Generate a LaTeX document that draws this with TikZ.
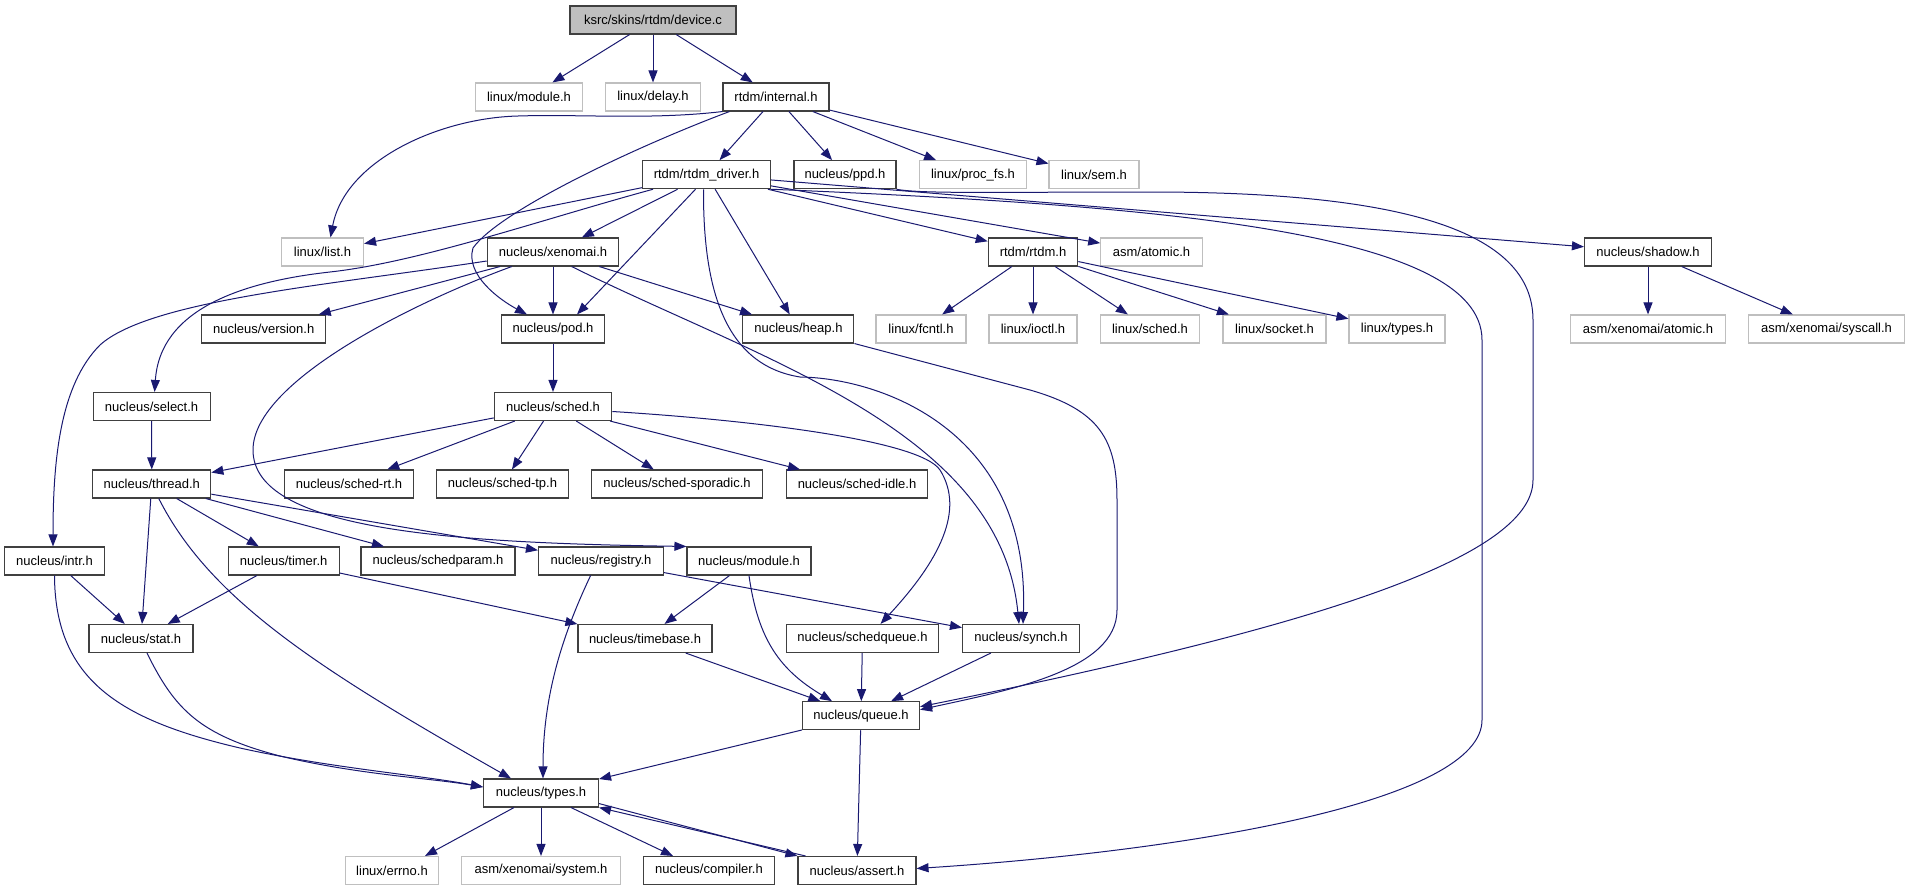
\documentclass[tikz,border=0pt]{standalone}
\usepackage{fontspec}
\setmainfont{Liberation Sans}
\usetikzlibrary{arrows.meta}
\definecolor{edgec}{HTML}{191970}
\definecolor{bdr}{HTML}{404040}
\definecolor{gbdr}{HTML}{BFBFBF}
\definecolor{gfill}{HTML}{BFBFBF}
\begin{document}
\begin{tikzpicture}[x=1pt,y=-1pt,
  box/.style={draw=bdr, line width=1.1pt, minimum height=28pt, inner sep=0pt,
    font=\fontsize{13}{15}\selectfont, text=black, anchor=center},
  ext/.style={box, draw=gbdr},
  root/.style={box, fill=gfill},
  e/.style={draw=edgec, line width=1pt, -{Triangle[length=12pt,width=9pt]}},
]
\useasboundingbox (0,0) rectangle (1909,891);
% row 1
\node[root, minimum width=166pt] (dev) at (653,20) {ksrc/skins/rtdm/device.c};
% row 2
\node[ext, minimum width=107pt] (lmod) at (529,97) {linux/module.h};
\node[ext, minimum width=95pt] (ldelay) at (653,97) {linux/delay.h};
\node[box, minimum width=106pt] (internal) at (776,97) {rtdm/internal.h};
% row 3
\node[box, minimum width=128pt] (drv) at (706.5,174.7) {rtdm/rtdm\_driver.h};
\node[box, minimum width=102pt] (ppd) at (845,174.7) {nucleus/ppd.h};
\node[ext, minimum width=106.5pt] (procfs) at (973,174.7) {linux/proc\_fs.h};
\node[ext, minimum width=90pt] (sem) at (1094,174.7) {linux/sem.h};
% row 4
\node[ext, minimum width=82pt] (list) at (322.5,252) {linux/list.h};
\node[box, minimum width=131.5pt] (xen) at (553,252) {nucleus/xenomai.h};
\node[box, minimum width=89.5pt] (rtdm) at (1033,252) {rtdm/rtdm.h};
\node[ext, minimum width=101.5pt] (asmat) at (1151.5,252) {asm/atomic.h};
\node[box, minimum width=127pt] (shadow) at (1648,252) {nucleus/shadow.h};
% row 5
\node[box, minimum width=124pt] (version) at (263.7,329) {nucleus/version.h};
\node[box, minimum width=103pt] (pod) at (553,329) {nucleus/pod.h};
\node[box, minimum width=111pt] (heap) at (798.4,329) {nucleus/heap.h};
\node[ext, minimum width=90pt] (fcntl) at (921,329) {linux/fcntl.h};
\node[ext, minimum width=88pt] (ioctl) at (1033,329) {linux/ioctl.h};
\node[ext, minimum width=99pt] (lsched) at (1150,329) {linux/sched.h};
\node[ext, minimum width=103pt] (socket) at (1274.5,329) {linux/socket.h};
\node[ext, minimum width=96pt] (ltypes) at (1397,329) {linux/types.h};
\node[ext, minimum width=155pt] (xatomic) at (1648,329) {asm/xenomai/atomic.h};
\node[ext, minimum width=156pt] (syscall) at (1826.5,329) {asm/xenomai/syscall.h};
% row 6
\node[box, minimum width=117pt] (select) at (151.6,406.5) {nucleus/select.h};
\node[box, minimum width=117.5pt] (sched) at (553,406.5) {nucleus/sched.h};
% row 7
\node[box, minimum width=118pt] (thread) at (151.8,484) {nucleus/thread.h};
\node[box, minimum width=129.5pt] (schedrt) at (349,484) {nucleus/sched-rt.h};
\node[box, minimum width=132pt] (schedtp) at (502.5,484) {nucleus/sched-tp.h};
\node[box, minimum width=171pt] (sporadic) at (677,484) {nucleus/sched-sporadic.h};
\node[box, minimum width=141pt] (idle) at (857,484) {nucleus/sched-idle.h};
% row 8
\node[box, minimum width=100pt] (intr) at (54.5,561) {nucleus/intr.h};
\node[box, minimum width=111pt] (timer) at (283.7,561) {nucleus/timer.h};
\node[box, minimum width=154pt] (schedparam) at (438,561) {nucleus/schedparam.h};
\node[box, minimum width=125pt] (registry) at (601,561) {nucleus/registry.h};
\node[box, minimum width=124pt] (module) at (749,561) {nucleus/module.h};
% row 9
\node[box, minimum width=104pt] (stat) at (141,638.5) {nucleus/stat.h};
\node[box, minimum width=134pt] (timebase) at (645,638.5) {nucleus/timebase.h};
\node[box, minimum width=152pt] (schedqueue) at (862.5,638.5) {nucleus/schedqueue.h};
\node[box, minimum width=117pt] (synch) at (1021,638.5) {nucleus/synch.h};
% row 10
\node[box, minimum width=117pt] (queue) at (861,715.7) {nucleus/queue.h};
% row 11
\node[box, minimum width=115pt] (types) at (541,793) {nucleus/types.h};
% row 12
\node[ext, minimum width=93pt] (errno) at (392,870.5) {linux/errno.h};
\node[ext, minimum width=159pt] (system) at (541,870.5) {asm/xenomai/system.h};
\node[box, minimum width=130.5pt] (compiler) at (709,870.5) {nucleus/compiler.h};
\node[box, minimum width=118pt] (assert) at (857,870.5) {nucleus/assert.h};

% ---- edges ----
\draw[e] (dev) -- (lmod);
\draw[e] (dev) -- (ldelay);
\draw[e] (dev) -- (internal);

\draw[e] (internal.south west) .. controls (650,120) and (580,114) .. (518,116)
  .. controls (440,118) and (345,160) .. ([xshift=8pt]list.north);
\draw[e] ([xshift=7pt]internal.south west) .. controls (640,145) and (500,210) .. (473,248)
  .. controls (465,275) and (500,300) .. ([xshift=-26pt]pod.north);
\draw[e] (internal) -- (drv);
\draw[e] (internal) -- (ppd);
\draw[e] (internal) -- (procfs);
\draw[e] (internal) -- (sem);

\draw[e] (drv) -- (list);
\draw[e] ([xshift=-53.5pt]drv.south) .. controls (540,220) and (420,262) .. (330,272)
  .. controls (240,282) and (160,310) .. ([xshift=3pt]select.north);
\draw[e] (drv) -- (xen);
\draw[e] ([xshift=-11pt]drv.south) -- ([xshift=24pt]pod.north);
\draw[e] (drv) -- (heap);
\draw[e] ([xshift=-3pt]drv.south) .. controls (703,290) and (725,365) .. (800,377)
  .. controls (880,378) and (1030,430) .. ([xshift=2pt]synch.north);
\draw[e] (drv) -- (rtdm);
\draw[e] (drv) -- (asmat);
\draw[e] (drv) -- (shadow);
\draw[e] (drv.south east) .. controls (1150,205) and (1482,230) .. (1482,340)
  -- (1482,720) .. controls (1482,800) and (1200,850) .. ([yshift=2pt]assert.east);

\draw[e] (ppd.south east) .. controls (920,194) and (1000,192) .. (1150,192)
  .. controls (1400,192) and (1533,230) .. (1533,320) -- (1533,480)
  .. controls (1533,560) and (1300,630) .. ([yshift=9pt]queue.east);

\draw[e] ([yshift=-9pt]xen.west) .. controls (330,285) and (150,300) .. (100,345)
  .. controls (60,385) and (53,460) .. ([xshift=-1.5pt]intr.north);
\draw[e] ([xshift=-53pt]xen.south) -- (version);
\draw[e] (xen) -- (pod);
\draw[e] (xen) -- (heap);
\draw[e] ([xshift=-41.3pt]xen.south) .. controls (420,300) and (253,380) .. (253,450)
  .. controls (253,530) and (450,543) .. (module.north west);
\draw[e] ([xshift=18.7pt]xen.south) .. controls (760,360) and (1000,430) .. ([xshift=-2pt]synch.north);

\draw[e] (pod) -- (sched);
\draw[e] (sched) -- (thread);
\draw[e] (sched) -- (schedrt);
\draw[e] (sched) -- (schedtp);
\draw[e] (sched) -- (sporadic);
\draw[e] (sched) -- (idle);
\draw[e] ([yshift=-5pt]sched.east) .. controls (750,420) and (920,440) .. (940,470)
  .. controls (965,510) and (940,560) .. ([xshift=18pt]schedqueue.north);

\draw[e] (heap.south east) -- (1030,390) .. controls (1100,410) and (1117,440) .. (1117,500)
  -- (1117,610) .. controls (1117,670) and (1010,690) .. ([yshift=6pt]queue.east);

\draw[e] (select) -- (thread);
\draw[e] (thread) -- (stat);
\draw[e] ([xshift=7pt]thread.south) .. controls (210,600) and (320,670) .. ([xshift=-30pt]types.north);
\draw[e] (thread) -- (timer);
\draw[e] (thread) -- (schedparam);
\draw[e] (thread) -- (registry);

\draw[e] (intr) -- (stat);
\draw[e] (intr.south) .. controls (55,680) and (120,720) .. (240,748)
  .. controls (330,768) and (420,775) .. ([yshift=6pt]types.west);
\draw[e] ([xshift=6pt]stat.south) .. controls (175,710) and (200,735) .. (280,756)
  .. controls (360,775) and (430,778) .. ([yshift=6pt]types.west);
\draw[e] (timer) -- (stat);
\draw[e] (timer) -- (timebase);
\draw[e] ([xshift=-10.4pt]registry.south) .. controls (560,640) and (543,700) .. ([xshift=2pt]types.north);
\draw[e] (registry) -- (synch);
\draw[e] (module) -- (timebase);
\draw[e] (module.south) .. controls (758,640) and (780,670) .. ([xshift=-29pt]queue.north);

\draw[e] (timebase) -- (queue);
\draw[e] (schedqueue) -- (queue);
\draw[e] (synch) -- (queue);
\draw[e] (queue) -- (types);
\draw[e] (queue) -- (assert);

\draw[e] ([xshift=-27pt]types.south) -- ([xshift=33pt]errno.north);
\draw[e] (types) -- (system);
\draw[e] ([xshift=30pt]types.south) -- ([xshift=-36pt]compiler.north);
\draw[e] ([yshift=4pt]types.south east) -- (assert.north west);
\draw[e] ([xshift=8pt]assert.north west) -- (types.south east);

\draw[e] (rtdm) -- (fcntl);
\draw[e] (rtdm) -- (ioctl);
\draw[e] (rtdm) -- (lsched);
\draw[e] (rtdm) -- (socket);
\draw[e] (rtdm) -- (ltypes);
\draw[e] (shadow) -- (xatomic);
\draw[e] (shadow) -- (syscall);
\end{tikzpicture}
\end{document}
